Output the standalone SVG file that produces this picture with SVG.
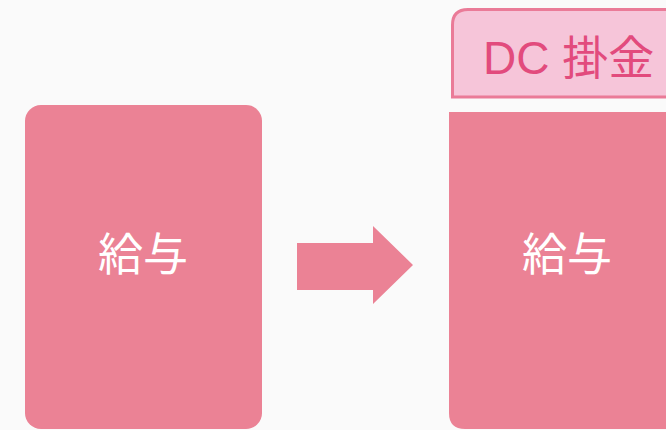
<svg xmlns="http://www.w3.org/2000/svg" width="666" height="430" viewBox="0 0 666 430">
<style>
.box{fill:#eb8295}
.lbl{font-family:"Noto Sans CJK JP","Noto Sans",sans-serif;font-size:45px;fill:#ffffff;text-anchor:middle}
.tag{fill:#f6c5d9;stroke:#ea7b98;stroke-width:3}
.tagt{font-family:"Liberation Sans","Noto Sans CJK JP",sans-serif;font-size:46px;fill:#e24b7d}
</style>
<rect width="666" height="430" fill="#fafafa"/>
<g id="left">
<rect class="box" x="25" y="105" width="237" height="324" rx="16"/>
<text class="lbl" x="143" y="271">給与</text>
</g>
<g id="connectors">
<polygon class="box" points="297,243 373,243 373,226 413,265 373,304 373,290 297,290"/>
</g>
<g id="right">
<path class="tag" d="M452.5,97 V25 Q452.5,9.5 468,9.5 H680 V97 Z"/>
<text class="tagt" x="483" y="74">DC 掛金</text>
<path class="box" d="M449,112 H690 V429 H465 Q449,429 449,413 Z"/>
<text class="lbl" x="567" y="271">給与</text>
</g>
</svg>
